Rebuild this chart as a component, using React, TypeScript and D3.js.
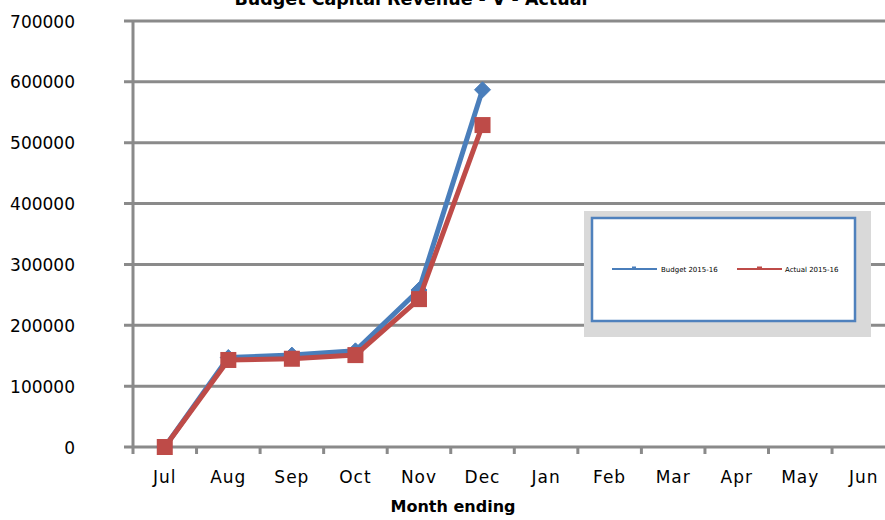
import React from "react";
import * as d3 from "d3";

const months = ["Jul", "Aug", "Sep", "Oct", "Nov", "Dec", "Jan", "Feb", "Mar", "Apr", "May", "Jun"];
const budget = [0, 147000, 151000, 158000, 258000, 587000];
const actual = [0, 143000, 145000, 151000, 243000, 529000];
const yTicks = [0, 100000, 200000, 300000, 400000, 500000, 600000, 700000];
const seriesNames = ["Budget 2015-16", "Actual 2015-16"];

const W = 885;
const H = 520;
const left = 133;
const bandW = 63.55;
const top = 21;
const bottom = 447;

const BLUE = "#4a7ebb";
const RED = "#be4b48";
const GRID = "#8a8a8a";
const FONT = "'DejaVu Sans', sans-serif";

export default function App() {
  const x = d3.scaleBand<string>().domain(months).range([left, left + bandW * months.length]).padding(0);
  const y = d3.scaleLinear().domain([0, 700000]).range([bottom, top]);
  const cx = (i: number) => (x(months[i]) as number) + x.bandwidth() / 2;

  const line = d3
    .line<number>()
    .x((_, i) => cx(i))
    .y((d) => y(d));

  const diamond = (px: number, py: number, r: number) =>
    `M${px},${py - r}L${px + r},${py}L${px},${py + r}L${px - r},${py}Z`;

  return (
    <svg
      width={W}
      height={H}
      style={{ position: "absolute", left: 0, top: 0, background: "#fff" }}
      fontFamily={FONT}
    >
      {/* title, sitting against the top edge */}
      <text x={411} y={5} textAnchor="middle" fontSize={17.5} fontWeight="bold" fill="#000">
        Budget Capital Revenue - V - Actual
      </text>

      {/* horizontal gridlines and y labels */}
      {yTicks.map((t) => (
        <g key={t}>
          <line x1={124} x2={W} y1={y(t)} y2={y(t)} stroke={GRID} strokeWidth={3} />
          <text x={75} y={y(t) + 6.5} textAnchor="end" fontSize={17} fill="#000">
            {t}
          </text>
        </g>
      ))}

      {/* y axis */}
      <line x1={left} x2={left} y1={top} y2={bottom + 7} stroke={GRID} strokeWidth={3} />

      {/* x ticks and labels */}
      {months.map((m, i) => (
        <g key={m}>
          <line
            x1={(x(m) as number) + bandW}
            x2={(x(m) as number) + bandW}
            y1={bottom}
            y2={bottom + 7}
            stroke={GRID}
            strokeWidth={3}
          />
          <text x={cx(i)} y={483} textAnchor="middle" fontSize={17} letterSpacing={1} fill="#000">
            {m}
          </text>
        </g>
      ))}

      <text x={453} y={512} textAnchor="middle" fontSize={16} fontWeight="bold" fill="#000">
        Month ending
      </text>

      {/* budget series */}
      <path d={line(budget) ?? ""} fill="none" stroke={BLUE} strokeWidth={5} strokeLinejoin="round" />
      {budget.map((v, i) => (
        <path key={`b${i}`} d={diamond(cx(i), y(v), 8)} fill={BLUE} stroke={BLUE} strokeWidth={1} />
      ))}

      {/* actual series */}
      <path d={line(actual) ?? ""} fill="none" stroke={RED} strokeWidth={5} strokeLinejoin="round" />
      {actual.map((v, i) => (
        <rect key={`a${i}`} x={cx(i) - 8} y={y(v) - 8} width={16} height={16} fill={RED} />
      ))}

      {/* legend */}
      <rect x={584} y={211} width={287} height={126} fill="#d9d9d9" />
      <rect x={592} y={218} width={263} height={103} fill="#fff" stroke="#4f81bd" strokeWidth={2.5} />
      <g>
        <line x1={612} x2={657} y1={269} y2={269} stroke={BLUE} strokeWidth={2} />
        <rect x={632} y={266.5} width={4} height={3} fill={BLUE} />
        <text x={661} y={271.5} fontSize={7} fill="#000">
          {seriesNames[0]}
        </text>
        <line x1={737} x2={782} y1={269} y2={269} stroke={RED} strokeWidth={2} />
        <rect x={757} y={266.5} width={5} height={3} fill={RED} />
        <text x={785} y={271.5} fontSize={7} fill="#000">
          {seriesNames[1]}
        </text>
      </g>
    </svg>
  );
}
